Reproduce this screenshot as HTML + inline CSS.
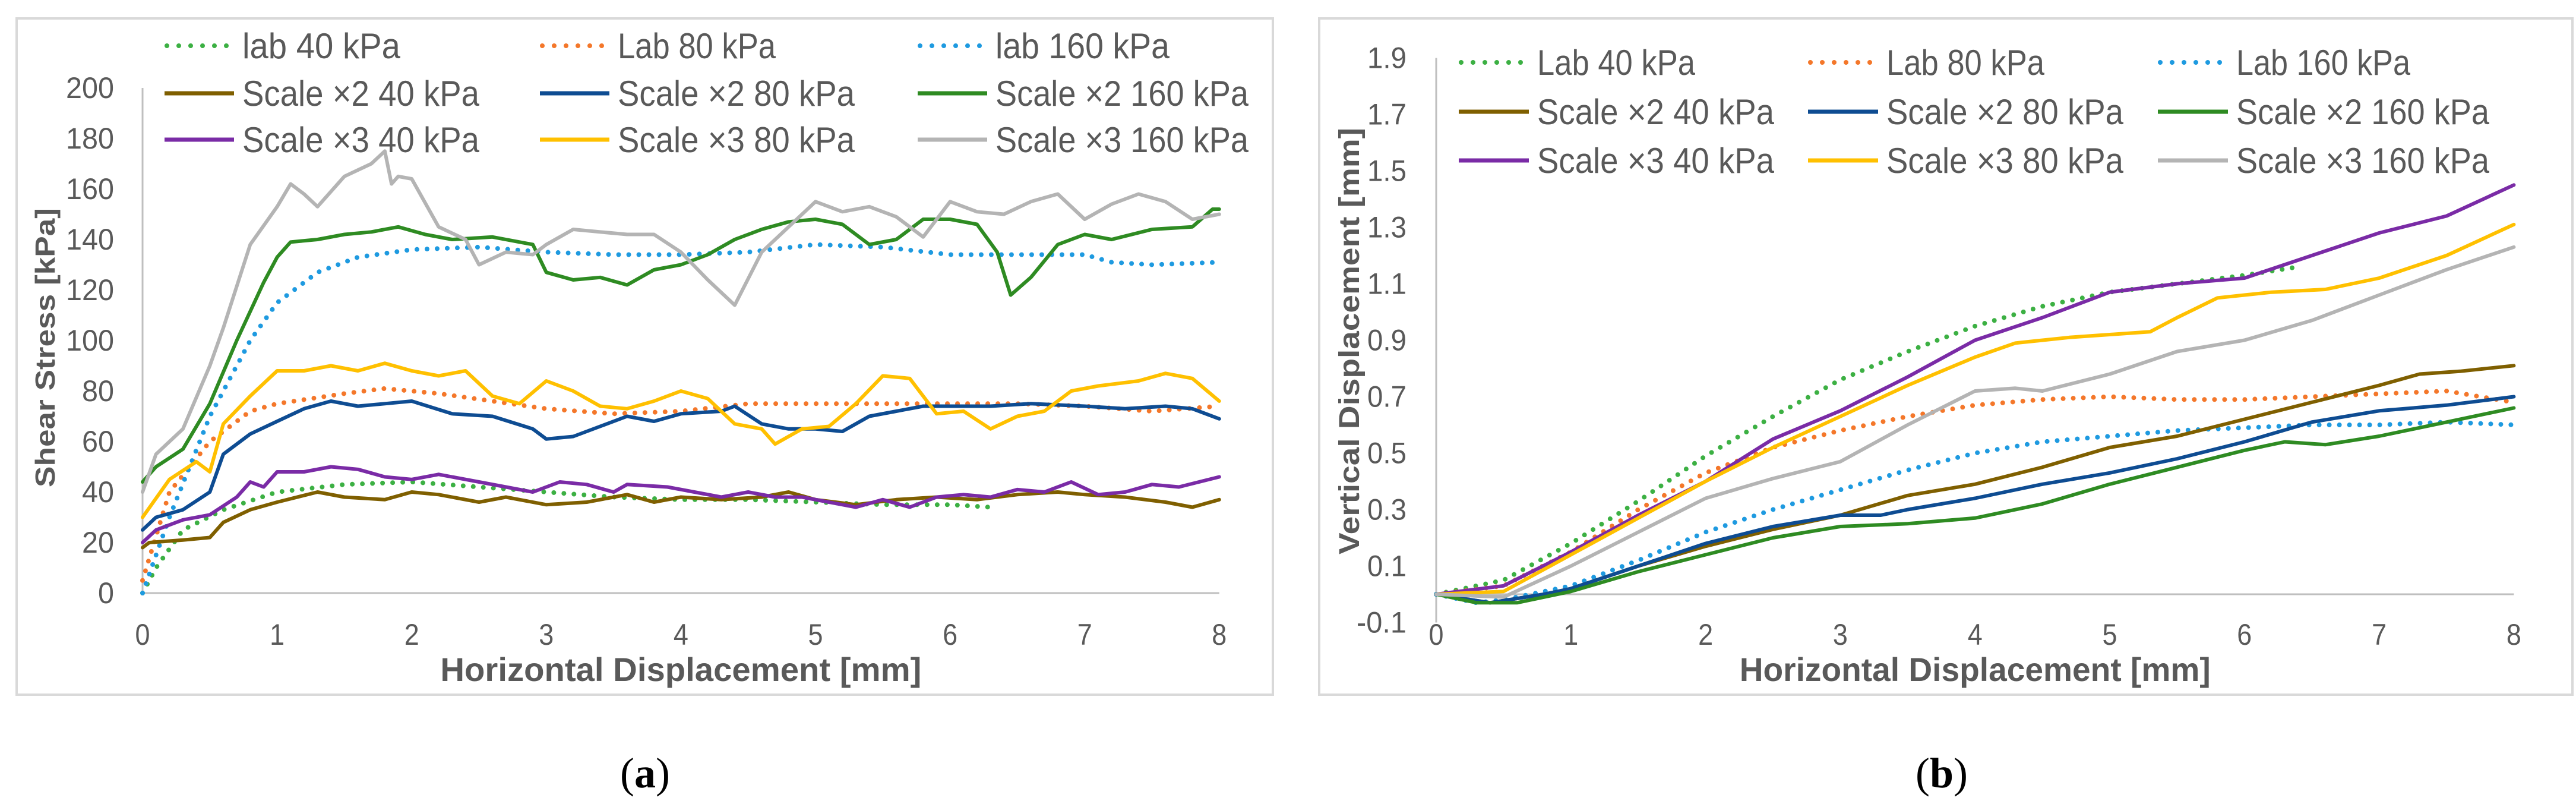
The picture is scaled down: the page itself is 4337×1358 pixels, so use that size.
<!DOCTYPE html>
<html><head><meta charset="utf-8">
<style>
html,body{margin:0;padding:0;background:#fff;}
svg{display:block;}
text{font-family:"Liberation Sans Narrow","Liberation Sans",sans-serif;fill:#595959;}
</style></head>
<body>
<svg id="fig" width="4337" height="1358" viewBox="0 0 4337 1358" xmlns="http://www.w3.org/2000/svg">
  <rect x="28" y="31" width="2115" height="1138" fill="#fff" stroke="#d9d9d9" stroke-width="4"/>
  <rect x="2221" y="31" width="2110" height="1138" fill="#fff" stroke="#d9d9d9" stroke-width="4"/>
  <g id="ga"></g>
  <g id="gb"></g>
  <text x="1086" y="1325" font-size="72" text-anchor="middle" style="font-family:'Liberation Serif',serif;fill:#000">(<tspan font-weight="bold">a</tspan>)</text>
  <text x="3269" y="1325" font-size="72" text-anchor="middle" style="font-family:'Liberation Serif',serif;fill:#000">(<tspan font-weight="bold">b</tspan>)</text>
</svg>
<script>
// ---------- data: chart (a) shear stress ----------
const aLab40X=[0,0.1,0.3,0.6,1,1.5,2,2.5,3,3.5,4,4.5,5,5.5,6,6.3];
const aLab40Y=[0,10,25,33,40,43,44,42,40,38,37,37,36,35,35,34];
const aLab80X=[0,0.2,0.5,0.8,1,1.5,1.8,2.2,2.6,3,3.5,4,4.5,5,6,6.5,7,7.5,8];
const aLab80Y=[5,40,60,72,75,79,81,79,76,73,71,72,75,75,75,75,74,72,74];
const aLab160X=[0,0.2,0.5,0.8,1,1.3,1.6,2,2.5,3,3.5,4,4.5,5,5.5,6,6.5,7,7.2,7.5,8];
const aLab160Y=[0,30,70,100,115,127,133,136,137,135,134,134,135,138,137,134,134,134,131,130,131];
const aS2_40X=[0,0.05,0.3,0.5,0.6,0.8,1,1.3,1.5,1.8,2,2.2,2.5,2.7,3,3.3,3.6,3.8,4,4.3,4.6,4.8,5,5.3,5.6,5.9,6.2,6.5,6.8,7,7.3,7.6,7.8,8];
const aS2_40Y=[18,20,21,22,28,33,36,40,38,37,40,39,36,38,35,36,39,36,38,37,38,40,37,35,37,38,37,39,40,39,38,36,34,37];
const aS2_80X=[0,0.1,0.3,0.5,0.6,0.8,1,1.2,1.4,1.6,1.8,2,2.3,2.6,2.9,3,3.2,3.4,3.6,3.8,4,4.3,4.4,4.6,4.8,5,5.2,5.4,5.6,5.8,6,6.3,6.6,7,7.3,7.6,7.8,8];
const aS2_80Y=[25,30,33,40,55,63,68,73,76,74,75,76,71,70,65,61,62,66,70,68,71,72,74,67,65,65,64,70,72,74,74,74,75,74,73,74,73,69];
const aS2_160X=[0,0.1,0.3,0.5,0.7,0.9,1,1.1,1.3,1.5,1.7,1.9,2.1,2.3,2.6,2.9,3,3.2,3.4,3.6,3.8,4,4.2,4.4,4.6,4.8,5,5.2,5.4,5.6,5.8,6,6.2,6.35,6.45,6.6,6.8,7,7.2,7.5,7.8,7.95,8];
const aS2_160Y=[44,50,57,75,100,123,133,139,140,142,143,145,142,140,141,138,127,124,125,122,128,130,134,140,144,147,148,146,138,140,148,148,146,135,118,125,138,142,140,144,145,152,152];
const aS3_40X=[0,0.1,0.3,0.5,0.7,0.8,0.9,1,1.2,1.4,1.6,1.8,2,2.2,2.5,2.7,2.9,3.1,3.3,3.5,3.6,3.9,4.1,4.3,4.5,4.7,4.9,5.1,5.3,5.5,5.7,5.9,6.1,6.3,6.5,6.7,6.9,7.1,7.3,7.5,7.7,8];
const aS3_40Y=[20,25,29,31,38,44,42,48,48,50,49,46,45,47,44,42,40,44,43,40,43,42,40,38,40,38,38,36,34,37,34,38,39,38,41,40,44,39,40,43,42,46];
const aS3_80X=[0,0.2,0.4,0.5,0.6,0.8,1,1.2,1.4,1.6,1.8,2,2.2,2.4,2.6,2.8,3,3.2,3.4,3.6,3.8,4,4.2,4.4,4.6,4.7,4.9,5.1,5.3,5.5,5.7,5.9,6.1,6.3,6.5,6.7,6.9,7.1,7.4,7.6,7.8,8];
const aS3_80Y=[30,45,52,48,67,78,88,88,90,88,91,88,86,88,78,75,84,80,74,73,76,80,77,67,65,59,65,66,75,86,85,71,72,65,70,72,80,82,84,87,85,76];
const aS3_160X=[0,0.1,0.3,0.5,0.6,0.8,1,1.1,1.2,1.3,1.5,1.7,1.8,1.85,1.9,2,2.2,2.4,2.5,2.7,2.9,3,3.2,3.4,3.6,3.8,4,4.2,4.4,4.6,4.8,5,5.2,5.4,5.6,5.8,6,6.2,6.4,6.6,6.8,7,7.2,7.4,7.6,7.8,8];
const aS3_160Y=[40,55,65,90,105,138,153,162,158,153,165,170,175,162,165,164,145,140,130,135,134,138,144,143,142,142,135,124,114,135,145,155,151,153,149,141,155,151,150,155,158,148,154,158,155,148,150];
const aYTicks=[0,20,40,60,80,100,120,140,160,180,200];
const xTicks=[0,1,2,3,4,5,6,7,8];
// ---------- data: chart (b) vertical displacement ----------
const bLab40X=[0,0.5,1,1.5,2,2.5,3,3.5,4,4.5,5,5.5,6,6.4];
const bLab40Y=[0,0.05,0.18,0.33,0.49,0.63,0.76,0.86,0.95,1.02,1.07,1.1,1.13,1.16];
const bLab80X=[0,0.5,1,1.5,2,2.5,3,3.5,4,4.5,5,5.5,6,6.5,7,7.5,8];
const bLab80Y=[0,0.03,0.15,0.3,0.43,0.52,0.58,0.63,0.67,0.69,0.7,0.69,0.69,0.7,0.71,0.72,0.68];
const bLab160X=[0,0.3,0.5,1,1.5,2,2.5,3,3.5,4,4.5,5,5.5,6,6.5,7,7.5,8];
const bLab160Y=[0,-0.03,-0.02,0.03,0.12,0.22,0.3,0.37,0.44,0.5,0.54,0.56,0.58,0.59,0.6,0.6,0.61,0.6];
const bS2_40X=[0,0.4,0.8,1,1.5,2,2.5,3,3.5,4,4.5,5,5.5,6,6.5,7,7.3,7.6,8];
const bS2_40Y=[0,-0.03,0,0.02,0.1,0.17,0.23,0.28,0.35,0.39,0.45,0.52,0.56,0.62,0.68,0.74,0.78,0.79,0.81];
const bS2_80X=[0,0.4,0.8,1,1.5,2,2.5,3,3.3,3.5,4,4.5,5,5.5,6,6.5,7,7.5,8];
const bS2_80Y=[0,-0.03,0,0.02,0.1,0.18,0.24,0.28,0.28,0.3,0.34,0.39,0.43,0.48,0.54,0.61,0.65,0.67,0.7];
const bS2_160X=[0,0.3,0.6,1,1.5,2,2.5,3,3.5,4,4.5,5,5.5,6,6.3,6.6,7,7.5,8];
const bS2_160Y=[0,-0.03,-0.03,0.01,0.08,0.14,0.2,0.24,0.25,0.27,0.32,0.39,0.45,0.51,0.54,0.53,0.56,0.61,0.66];
const bS3_40X=[0,0.5,1,1.5,2,2.5,3,3.5,4,4.5,5,5.5,6,6.5,7,7.5,8];
const bS3_40Y=[0,0.03,0.15,0.28,0.4,0.55,0.65,0.77,0.9,0.98,1.07,1.1,1.12,1.2,1.28,1.34,1.45];
const bS3_80X=[0,0.5,1,1.5,2,2.5,3,3.5,4,4.3,4.7,5,5.3,5.5,5.8,6,6.2,6.6,7,7.5,8];
const bS3_80Y=[0,0.01,0.14,0.27,0.4,0.52,0.63,0.74,0.84,0.89,0.91,0.92,0.93,0.98,1.05,1.06,1.07,1.08,1.12,1.2,1.31];
const bS3_160X=[0,0.5,1,1.5,2,2.5,3,3.5,4,4.3,4.5,5,5.5,6,6.5,7,7.5,8];
const bS3_160Y=[0,-0.01,0.1,0.22,0.34,0.41,0.47,0.6,0.72,0.73,0.72,0.78,0.86,0.9,0.97,1.06,1.15,1.23];
const bYTicks=[-0.1,0.1,0.3,0.5,0.7,0.9,1.1,1.3,1.5,1.7,1.9];

const NS='http://www.w3.org/2000/svg';
function mk(parent,tag,attrs){const e=document.createElementNS(NS,tag);for(const k in attrs)e.setAttribute(k,attrs[k]);parent.appendChild(e);return e;}
function tw(s){let w=0;for(const c of s){w+= c==='.'?12:(c==='-'?18:27);}return w;}

const COL={lab40:'#3cb043',lab80:'#f4772a',lab160:'#1e9ae0',s2_40:'#7f5f00',s2_80:'#0e4c92',s2_160:'#2e8b22',s3_40:'#7a2ba6',s3_80:'#ffc000',s3_160:'#b4b4b4'};

function drawChart(g,cfg){
  const sx=v=>cfg.x0+v*cfg.xs, sy=v=>cfg.y0-(v-cfg.yBase)*cfg.ys;
  const ax=mk(g,'line',{x1:sx(0),y1:sy(cfg.yAxisMin),x2:sx(0),y2:sy(cfg.yAxisMax),stroke:'#bfbfbf','stroke-width':3});
  
  
  const bx=mk(g,'line',{x1:sx(0),y1:sy(0),x2:sx(8),y2:sy(0),stroke:'#bfbfbf','stroke-width':3});
  
  
  cfg.yTicks.forEach(t=>{
    const s=cfg.fmt(t);
    const e=mk(g,'text',{x:cfg.yLabX,y:sy(t)+17,'font-size':50,'text-anchor':'end',textLength:tw(s),lengthAdjust:'spacingAndGlyphs'});
    e.textContent=s;
    
    
  });
  xTicks.forEach(t=>{
    const e=mk(g,'text',{x:sx(t),y:1085,'font-size':50,'text-anchor':'middle',textLength:25,lengthAdjust:'spacingAndGlyphs'});
    e.textContent=String(t);
    
    
  });
  const xt=mk(g,'text',{x:cfg.x0+4*cfg.xs,y:1146,'font-size':56,'font-weight':'bold','text-anchor':'middle',textLength:cfg.xtLen,lengthAdjust:'spacingAndGlyphs'});
  xt.textContent='Horizontal Displacement [mm]';
  
  
  const yt=mk(g,'text',{x:0,y:0,'font-size':cfg.ytSize,'font-weight':'bold','text-anchor':'middle',transform:`translate(${cfg.ytX},${cfg.ytY}) rotate(-90)`,textLength:cfg.ytLen,lengthAdjust:'spacingAndGlyphs',style:'font-family:"Liberation Sans",sans-serif'});
  yt.textContent=cfg.yTitle;
  
  
  cfg.series.forEach(s=>{
    const d=s.x.map((v,i)=>(i?'L':'M')+sx(v).toFixed(1)+' '+sy(s.y[i]).toFixed(1)).join(' ');
    const attrs={d:d,fill:'none',stroke:s.c,'stroke-width':s.dot?8:6,'stroke-linejoin':'round','stroke-linecap':'round'};
    if(s.dot){attrs['stroke-dasharray']='0 17';}
    const p=mk(g,'path',attrs);
    
    
  });
  cfg.series.forEach((s,i)=>{
    const col=i%3,row=Math.floor(i/3);
    const mx=cfg.legMx[col],ty=cfg.legY[row];
    const la={x1:mx,y1:ty,x2:mx+cfg.legLen,y2:ty,stroke:s.c,'stroke-width':s.dot?8:7,'stroke-linecap':s.dot?'round':'butt'};
    if(s.dot){la['stroke-dasharray']='0 20';la.x1=mx+4;}
    const l=mk(g,'line',la);
    
    
    const t=mk(g,'text',{x:mx+cfg.legLen+14,y:ty+21,'font-size':60,textLength:(s.name.length*26.6).toFixed(0),lengthAdjust:'spacingAndGlyphs'});
    t.textContent=s.name;
    
    
  });
}

drawChart(document.getElementById('ga'),{
  x0:240,xs:226.6,y0:998,ys:4.25,yBase:0,yAxisMin:0,yAxisMax:200,
  yTicks:aYTicks,fmt:v=>String(v),yLabX:192,
  yTitle:'Shear Stress [kPa]',ytSize:46,ytX:92,ytY:585,ytLen:470,xtLen:810,
  legMx:[277,909,1545],legY:[77,157,235],legLen:117,
  series:[
    {id:'lab-40',name:'lab 40 kPa',x:aLab40X,y:aLab40Y,c:COL.lab40,dot:1},
    {id:'lab-80',name:'Lab 80 kPa',x:aLab80X,y:aLab80Y,c:COL.lab80,dot:1},
    {id:'lab-160',name:'lab 160 kPa',x:aLab160X,y:aLab160Y,c:COL.lab160,dot:1},
    {id:'scale2-40',name:'Scale ×2 40 kPa',x:aS2_40X,y:aS2_40Y,c:COL.s2_40},
    {id:'scale2-80',name:'Scale ×2 80 kPa',x:aS2_80X,y:aS2_80Y,c:COL.s2_80},
    {id:'scale2-160',name:'Scale ×2 160 kPa',x:aS2_160X,y:aS2_160Y,c:COL.s2_160},
    {id:'scale3-40',name:'Scale ×3 40 kPa',x:aS3_40X,y:aS3_40Y,c:COL.s3_40},
    {id:'scale3-80',name:'Scale ×3 80 kPa',x:aS3_80X,y:aS3_80Y,c:COL.s3_80},
    {id:'scale3-160',name:'Scale ×3 160 kPa',x:aS3_160X,y:aS3_160Y,c:COL.s3_160}
  ]});

drawChart(document.getElementById('gb'),{
  x0:2418,xs:226.8,y0:1000,ys:475,yBase:0,yAxisMin:-0.1,yAxisMax:1.9,
  yTicks:bYTicks,fmt:v=>v.toFixed(1),yLabX:2368,
  yTitle:'Vertical Displacement [mm]',ytSize:48,ytX:2288,ytY:574,ytLen:718,xtLen:793,
  legMx:[2456,3044,3633],legY:[105,188,270],legLen:118,
  series:[
    {id:'lab-40',name:'Lab 40 kPa',x:bLab40X,y:bLab40Y,c:COL.lab40,dot:1},
    {id:'lab-80',name:'Lab 80 kPa',x:bLab80X,y:bLab80Y,c:COL.lab80,dot:1},
    {id:'lab-160',name:'Lab 160 kPa',x:bLab160X,y:bLab160Y,c:COL.lab160,dot:1},
    {id:'scale2-40',name:'Scale ×2 40 kPa',x:bS2_40X,y:bS2_40Y,c:COL.s2_40},
    {id:'scale2-80',name:'Scale ×2 80 kPa',x:bS2_80X,y:bS2_80Y,c:COL.s2_80},
    {id:'scale2-160',name:'Scale ×2 160 kPa',x:bS2_160X,y:bS2_160Y,c:COL.s2_160},
    {id:'scale3-40',name:'Scale ×3 40 kPa',x:bS3_40X,y:bS3_40Y,c:COL.s3_40},
    {id:'scale3-80',name:'Scale ×3 80 kPa',x:bS3_80X,y:bS3_80Y,c:COL.s3_80},
    {id:'scale3-160',name:'Scale ×3 160 kPa',x:bS3_160X,y:bS3_160Y,c:COL.s3_160}
  ]});
</script>
</body></html>
